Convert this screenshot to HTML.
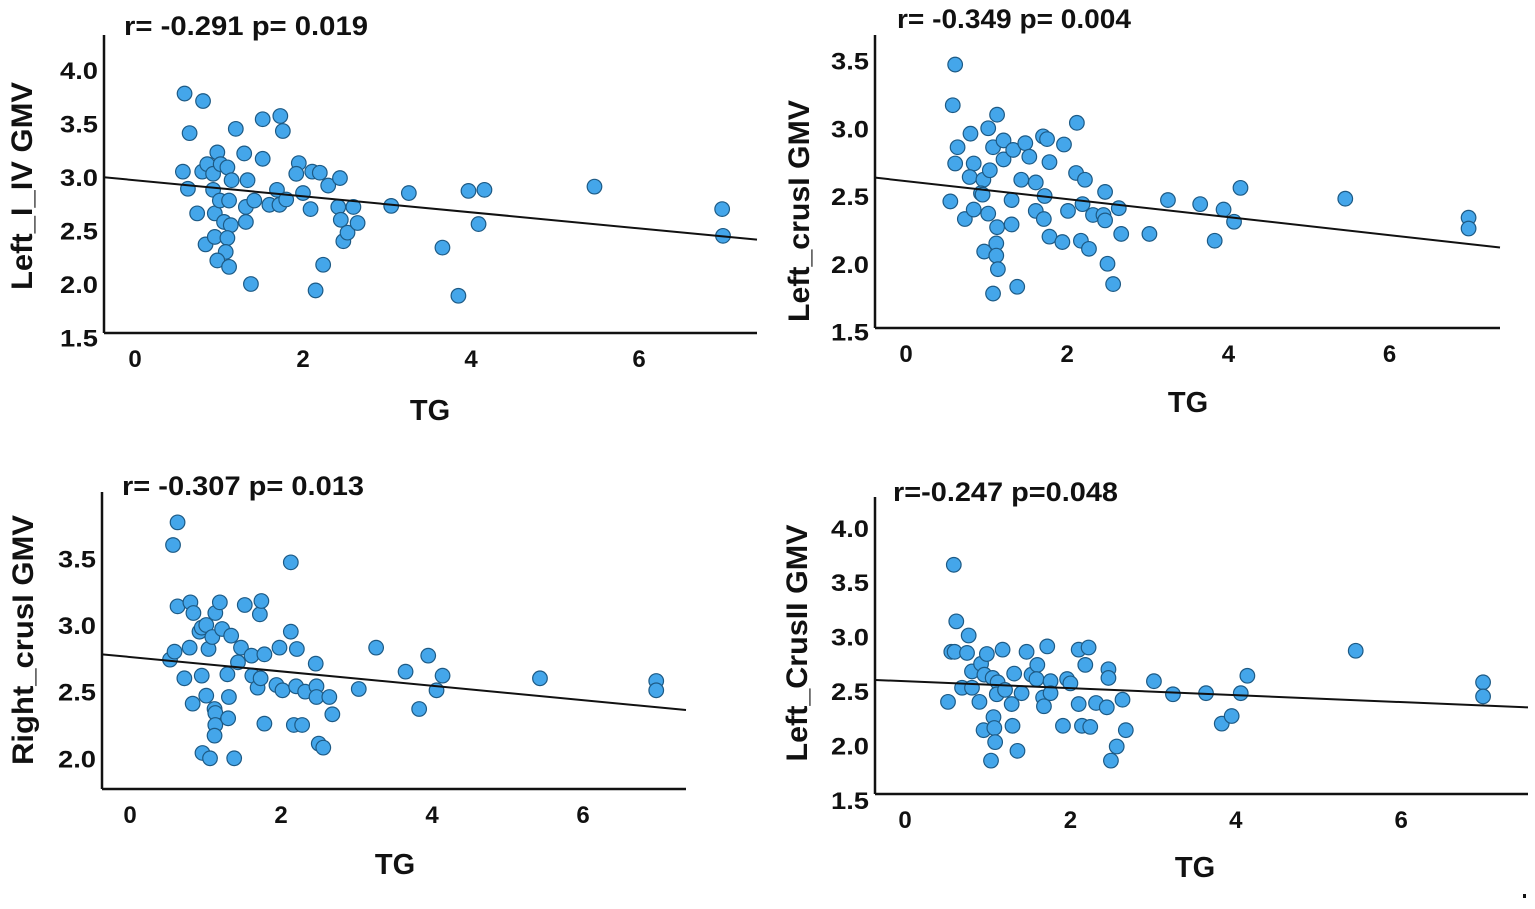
<!DOCTYPE html>
<html><head><meta charset="utf-8"><style>
html,body{margin:0;padding:0;background:#fff}
svg{display:block;font-family:"Liberation Sans",Arial,sans-serif;font-weight:bold}
</style></head><body>
<svg id="chart" width="1535" height="909" viewBox="0 0 1535 909" xmlns="http://www.w3.org/2000/svg"></svg>
<script>
// Panel 1: Left_I_IV GMV
const p1TG=[0.59,0.81,0.65,0.57,0.63,0.74,0.80,0.86,0.98,0.93,0.93,1.02,1.10,1.15,0.95,0.84,0.95,1.01,1.12,1.06,1.14,1.10,1.08,0.98,1.12,1.20,1.30,1.34,1.32,1.32,1.42,1.38,1.52,1.52,1.60,1.69,1.72,1.73,1.76,1.80,1.95,1.92,2.00,2.09,2.11,2.20,2.30,2.15,2.24,2.44,2.42,2.45,2.48,2.53,2.60,2.65,3.05,3.26,3.66,3.85,3.97,4.16,4.09,5.47,6.99,7.0];
const p1GMV=[3.78,3.71,3.41,3.05,2.89,2.66,3.05,3.12,3.23,3.03,2.88,3.12,3.09,2.97,2.66,2.37,2.44,2.78,2.78,2.58,2.55,2.43,2.30,2.22,2.16,3.45,3.22,2.97,2.72,2.58,2.78,2.0,3.17,3.54,2.74,2.88,2.74,3.57,3.43,2.79,3.13,3.03,2.85,2.70,3.05,3.04,2.92,1.94,2.18,2.99,2.72,2.60,2.40,2.48,2.72,2.57,2.73,2.85,2.34,1.89,2.87,2.88,2.56,2.91,2.70,2.45];
const p1Fit=[2.97,-0.075];
// Panel 2: Left_crusI GMV
const p2TG=[0.61,0.58,0.64,0.61,0.55,0.73,0.80,0.84,0.79,0.84,0.96,0.93,0.95,1.02,1.04,1.02,0.97,1.08,1.13,1.21,1.21,1.13,1.12,1.12,1.14,1.08,1.31,1.31,1.33,1.43,1.48,1.53,1.38,1.61,1.61,1.71,1.72,1.70,1.75,1.78,1.78,1.94,1.96,2.01,2.12,2.11,2.22,2.19,2.17,2.27,2.32,2.45,2.47,2.47,2.50,2.57,2.64,2.67,3.02,3.25,3.65,3.83,3.94,4.07,4.15,5.45,6.98,6.98];
const p2GMV=[3.47,3.17,2.86,2.74,2.46,2.33,2.96,2.74,2.64,2.40,2.62,2.52,2.51,3.0,2.69,2.37,2.09,2.86,3.10,2.91,2.77,2.27,2.15,2.06,1.96,1.78,2.47,2.29,2.84,2.62,2.89,2.79,1.83,2.60,2.39,2.33,2.50,2.94,2.92,2.75,2.20,2.16,2.88,2.39,3.04,2.67,2.62,2.44,2.17,2.11,2.36,2.36,2.53,2.32,2.0,1.85,2.41,2.22,2.22,2.47,2.44,2.17,2.40,2.31,2.56,2.48,2.34,2.26];
const p2Fit=[2.61,-0.0665];
// Panel 3: Right_crusI GMV
const p3TG=[0.63,0.57,0.63,0.53,0.59,0.72,0.79,0.80,0.84,0.83,0.92,0.95,0.95,1.01,1.04,1.01,0.96,1.06,1.09,1.13,1.19,1.22,1.12,1.13,1.13,1.12,1.29,1.31,1.30,1.34,1.38,1.43,1.47,1.52,1.61,1.62,1.69,1.72,1.74,1.73,1.78,1.78,1.94,1.98,2.02,2.13,2.13,2.21,2.20,2.17,2.28,2.32,2.46,2.47,2.47,2.50,2.56,2.64,2.68,3.03,3.26,3.65,3.83,3.95,4.06,4.14,5.43,6.97,6.97];
const p3GMV=[3.77,3.60,3.14,2.74,2.80,2.60,2.83,3.17,3.09,2.41,2.95,2.62,2.98,3.0,2.82,2.47,2.04,2.0,2.91,3.09,3.17,2.97,2.37,2.34,2.25,2.17,2.63,2.46,2.30,2.92,2.0,2.72,2.83,3.15,2.77,2.62,2.53,3.08,3.18,2.60,2.78,2.26,2.55,2.83,2.51,2.95,3.47,2.82,2.54,2.25,2.25,2.50,2.71,2.54,2.46,2.11,2.08,2.46,2.33,2.52,2.83,2.65,2.37,2.77,2.51,2.62,2.60,2.58,2.51];
const p3Fit=[2.76,-0.054];
// Panel 4: Left_CrusII GMV
const p4TG=[0.59,0.62,0.56,0.60,0.52,0.77,0.75,0.69,0.81,0.81,0.90,0.92,0.99,0.96,0.95,1.06,1.04,1.07,1.08,1.09,1.12,1.11,1.18,1.21,1.29,1.30,1.32,1.36,1.41,1.47,1.53,1.60,1.59,1.67,1.68,1.72,1.76,1.76,1.91,1.96,2.0,2.10,2.10,2.14,2.18,2.22,2.24,2.31,2.46,2.46,2.44,2.49,2.56,2.63,2.67,3.01,3.24,3.64,3.83,3.95,4.06,4.14,5.45,6.99,6.99];
const p4GMV=[3.66,3.14,2.86,2.86,2.40,3.01,2.85,2.53,2.68,2.53,2.40,2.75,2.84,2.65,2.14,2.62,1.86,2.26,2.16,2.03,2.58,2.47,2.88,2.51,2.38,2.18,2.66,1.95,2.48,2.86,2.65,2.74,2.61,2.44,2.36,2.91,2.59,2.48,2.18,2.61,2.57,2.38,2.88,2.18,2.74,2.90,2.17,2.39,2.70,2.62,2.35,1.86,1.99,2.42,2.14,2.59,2.47,2.48,2.20,2.27,2.48,2.64,2.87,2.58,2.45];
const p4Fit=[2.59,-0.032];

const xTicks=[0,2,4,6];
const p1YTicks=[1.5,2.0,2.5,3.0,3.5,4.0];
const p2YTicks=[1.5,2.0,2.5,3.0,3.5];
const p3YTicks=[2.0,2.5,3.0,3.5];
const p4YTicks=[1.5,2.0,2.5,3.0,3.5,4.0];

const panels=[
 {id:'left-i-iv',tg:p1TG,v:p1GMV,fit:p1Fit,yt:p1YTicks,title:'Left_I_IV GMV',stat:'r= -0.291 p= 0.019',statW:244,titleW:208,
  x0:135,xs:84,yRefV:3.0,yRefP:177,ys:107,cx:104,cy:333,top:35,right:757,statX:124,statY:35,titleX:32,titleY:186,tgX:430,tgY:420,ylabX:98,xmin:-0.37},
 {id:'left-crusi',tg:p2TG,v:p2GMV,fit:p2Fit,yt:p2YTicks,title:'Left_crusI GMV',stat:'r= -0.349 p= 0.004',statW:234,titleW:222,
  x0:906,xs:80.6,yRefV:2.5,yRefP:196,ys:135.5,cx:875,cy:328,top:35,right:1500,statX:897,statY:28,titleX:809,titleY:211,tgX:1188,tgY:412,ylabX:869,xmin:-0.38},
 {id:'right-crusi',tg:p3TG,v:p3GMV,fit:p3Fit,yt:p3YTicks,title:'Right_crusI GMV',stat:'r= -0.307 p= 0.013',statW:242,titleW:250,
  x0:130,xs:75.5,yRefV:3.0,yRefP:625,ys:133.3,cx:102,cy:789,top:492,right:686,statX:122,statY:495,titleX:33,titleY:640,tgX:395,tgY:874,ylabX:96,xmin:-0.37},
 {id:'left-crusii',tg:p4TG,v:p4GMV,fit:p4Fit,yt:p4YTicks,title:'Left_CrusII GMV',stat:'r=-0.247 p=0.048',statW:225,titleW:237,
  x0:905,xs:82.7,yRefV:2.5,yRefP:691,ys:108.8,cx:875,cy:794,top:497,right:1528,statX:893,statY:501,titleX:807,titleY:643,tgX:1195,tgY:877,ylabX:869,xmin:-0.36}
];
const NS='http://www.w3.org/2000/svg';
const svg=document.getElementById('chart');
function mk(tag,attrs,parent){const e=document.createElementNS(NS,tag);for(const k in attrs)e.setAttribute(k,attrs[k]);parent.appendChild(e);return e;}
panels.forEach(p=>{
  const X=t=>p.x0+t*p.xs;
  const Y=v=>p.yRefP-(v-p.yRefV)*p.ys;
  const g=mk('g',{},svg);
  
  
  for(let i=0;i<p.tg.length;i++){
    const c=mk('circle',{cx:X(p.tg[i]),cy:Y(p.v[i]),r:7.3,fill:'#44a6ea',stroke:'#1d5a85','stroke-width':1.2},g);
    
    
  }
  const xmax=(p.right-p.x0)/p.xs;
  const fl=mk('line',{x1:X(p.xmin),y1:Y(p.fit[0]+p.fit[1]*p.xmin),x2:p.right,y2:Y(p.fit[0]+p.fit[1]*xmax),stroke:'#111','stroke-width':2},g);
  
  
  const ya=mk('line',{x1:p.cx,y1:p.top,x2:p.cx,y2:p.cy,stroke:'#111','stroke-width':2.5},g);
  
  
  const xa=mk('line',{x1:p.cx,y1:p.cy,x2:p.right,y2:p.cy,stroke:'#111','stroke-width':2.5},g);
  
  
  xTicks.forEach(t=>{
    const tx=mk('text',{x:X(t),y:p.cy+34,'text-anchor':'middle','font-size':24,fill:'#111'},g);
    tx.textContent=t;
    
    
  });
  p.yt.forEach(v=>{
    const tx=mk('text',{x:p.ylabX,y:Y(v)+9,'text-anchor':'end','font-size':24,fill:'#111',textLength:38,lengthAdjust:'spacingAndGlyphs'},g);
    tx.textContent=v.toFixed(1);
    
    
  });
  const st=mk('text',{x:p.statX,y:p.statY,'font-size':27,fill:'#111',textLength:p.statW,lengthAdjust:'spacingAndGlyphs'},g);
  st.textContent=p.stat;
  
  
  const yt=mk('text',{x:p.titleX,y:p.titleY,'text-anchor':'middle','font-size':30,fill:'#111',textLength:p.titleW,lengthAdjust:'spacingAndGlyphs',transform:'rotate(-90 '+p.titleX+' '+p.titleY+')'},g);
  yt.textContent=p.title;
  
  
  const xt=mk('text',{x:p.tgX,y:p.tgY,'text-anchor':'middle','font-size':29,fill:'#111'},g);
  xt.textContent='TG';
  
  
});
const dot=mk('rect',{x:1523,y:894,width:3,height:4,fill:'#111'},svg);


</script>
</body></html>
